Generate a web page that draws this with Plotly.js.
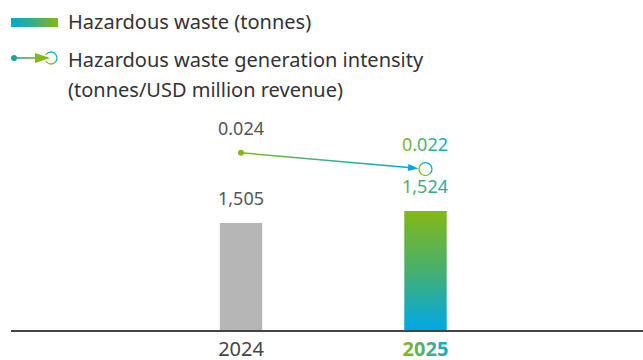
<!DOCTYPE html>
<html>
<head>
<meta charset="utf-8">
<script src="https://cdn.plot.ly/plotly-3.0.1.min.js"></script>
<style>
  html, body { margin: 0; padding: 0; background: #ffffff; }
  #chart { width: 643px; height: 360px; }
</style>
</head>
<body>
<div id="chart"></div>
<script>
// ---- data ----
const categories = ['2024', '2025'];
const wasteTonnes = [1505, 1524];
const intensity = [0.024, 0.022];
const tickLabels = ['2024', '<b>2025</b>'];
const legendWaste = 'Hazardous waste (tonnes)';
const legendIntensityLine1 = 'Hazardous waste generation intensity';
const legendIntensityLine2 = '(tonnes/USD million revenue)';

const FONT = 'Noto Sans, Open Sans, sans-serif';
const GREEN = '#84b816';
const BLUE = '#00a7e4';

const barTrace = {
  type: 'bar',
  x: categories,
  y: wasteTonnes,
  width: [0.23, 0.23],
  marker: { color: ['#b5b6b5', GREEN], line: { width: 0 } },
  hoverinfo: 'skip',
  cliponaxis: true
};

// intensity line with arrowhead at its end
const lineTrace = {
  type: 'scatter',
  x: categories,
  y: intensity,
  yaxis: 'y2',
  mode: 'lines+markers',
  line: { color: '#40aa90', width: 1.5, backoff: 'auto' },
  marker: {
    symbol: 'arrow',
    size: 11,
    color: BLUE,
    opacity: 1,
    angleref: 'previous',
    standoff: 7,
    line: { width: 0 }
  },
  hoverinfo: 'skip',
  cliponaxis: false
};

// start dot
const startDotTrace = {
  type: 'scatter',
  x: [categories[0]],
  y: [intensity[0]],
  yaxis: 'y2',
  mode: 'markers',
  marker: { symbol: 'circle', size: 6, color: GREEN, opacity: 1, line: { width: 0 } },
  hoverinfo: 'skip',
  cliponaxis: false
};

// end ring
const endCircleTrace = {
  type: 'scatter',
  x: [categories[1]],
  y: [intensity[1]],
  yaxis: 'y2',
  mode: 'markers',
  marker: { symbol: 'circle-open', size: 13, color: '#1aa9d0', opacity: 1, line: { width: 1.3, color: '#1aa9d0' } },
  hoverinfo: 'skip',
  cliponaxis: false
};

// ---- annotations ----
const annotations = [];
wasteTonnes.forEach(function (v, i) {
  annotations.push({
    x: i, y: v, xref: 'x', yref: 'y',
    text: v.toLocaleString('en-US'), showarrow: false, yshift: 25,
    font: { family: FONT, size: 18, color: '#555555' }
  });
});
intensity.forEach(function (v, i) {
  annotations.push({
    x: i, y: v, xref: 'x', yref: 'y2',
    text: v.toFixed(3), showarrow: false, yshift: 25,
    font: { family: FONT, size: 18, color: '#555555' }
  });
});
const L = 11, PW = 632, T = 100, PH = 230;
function px2x(px) { return (px - L) / PW; }
function py2y(py) { return (T + PH - py) / PH; }
[[legendWaste, 22], [legendIntensityLine1, 60], [legendIntensityLine2, 89]].forEach(function (e) {
  annotations.push({
    xref: 'paper', yref: 'paper', x: px2x(66), y: py2y(e[1]),
    xanchor: 'left', yanchor: 'middle', text: e[0], showarrow: false,
    font: { family: FONT, size: 20, color: '#333333' }
  });
});

const icon1 = '<svg xmlns="http://www.w3.org/2000/svg" width="47" height="9" viewBox="0 0 47 9">' +
  '<defs><linearGradient id="a" x1="0" y1="0" x2="1" y2="0"><stop offset="0" stop-color="#05a4e2"/><stop offset="0.5" stop-color="#40ad7e"/><stop offset="1" stop-color="#84b816"/></linearGradient></defs>' +
  '<rect x="0" y="0" width="47" height="9" fill="url(#a)"/></svg>';
const icon2 = '<svg xmlns="http://www.w3.org/2000/svg" width="48" height="16" viewBox="0 0 48 16">' +
  '<defs><linearGradient id="b" x1="0" y1="0" x2="1" y2="0"><stop offset="0" stop-color="#1aa39a"/><stop offset="1" stop-color="#84b816"/></linearGradient>' +
  '<linearGradient id="c" x1="0" y1="1" x2="1" y2="0"><stop offset="0" stop-color="#84b816"/><stop offset="0.5" stop-color="#84b816"/><stop offset="0.6" stop-color="#1aa9d8"/><stop offset="1" stop-color="#1aa9d8"/></linearGradient></defs>' +
  '<rect x="4" y="7.2" width="23" height="1.6" fill="url(#b)"/>' +
  '<circle cx="4" cy="8" r="3" fill="#1aa39a"/>' +
  '<polygon points="25,3 40,8 25,13" fill="#84b816"/>' +
  '<path d="M35.8,5 A6,6 0 1 1 35.8,11" fill="none" stroke="url(#c)" stroke-width="1.3"/></svg>';
function uri(s) { return 'data:image/svg+xml;charset=utf-8,' + encodeURIComponent(s); }

const layout = {
  width: 643, height: 360,
  margin: { l: L, r: 0, t: T, b: 30, pad: 0 },
  paper_bgcolor: '#ffffff', plot_bgcolor: '#ffffff',
  showlegend: false,
  font: { family: FONT, color: '#444444' },
  xaxis: {
    type: 'category', range: [-1.2466, 2.1789],
    showline: true, linecolor: '#444444', linewidth: 1.5,
    ticks: '', tickvals: categories, ticktext: tickLabels,
    tickfont: { family: FONT, size: 20, color: '#444444' },
    showgrid: false, zeroline: false, fixedrange: true
  },
  yaxis: { range: [1335.6, 1699.8], visible: false, fixedrange: true },
  yaxis2: { range: [0.00225, 0.03047], overlaying: 'y', visible: false, fixedrange: true },
  annotations: annotations,
  images: [
    { source: uri(icon1), xref: 'paper', yref: 'paper', x: px2x(11), y: py2y(18), sizex: 47 / PW, sizey: 9 / PH, xanchor: 'left', yanchor: 'top', sizing: 'stretch', layer: 'above' },
    { source: uri(icon2), xref: 'paper', yref: 'paper', x: px2x(10), y: py2y(50), sizex: 48 / PW, sizey: 16 / PH, xanchor: 'left', yanchor: 'top', sizing: 'stretch', layer: 'above' }
  ]
};

const gd = document.getElementById('chart');
const ns = 'http://www.w3.org/2000/svg';
function decorate() {
  const svg = gd.querySelector('svg.main-svg');
  if (!svg) return;
  let defs = document.getElementById('myGradDefs');
  if (!defs) {
    defs = document.createElementNS(ns, 'defs');
    defs.setAttribute('id', 'myGradDefs');
    svg.insertBefore(defs, svg.firstChild);
  }
  function grad(id, x1, y1, x2, y2, stops, user) {
    let g = document.getElementById(id);
    if (g) g.parentNode.removeChild(g);
    g = document.createElementNS(ns, 'linearGradient');
    g.setAttribute('id', id);
    if (user) g.setAttribute('gradientUnits', 'userSpaceOnUse');
    g.setAttribute('x1', x1); g.setAttribute('y1', y1); g.setAttribute('x2', x2); g.setAttribute('y2', y2);
    stops.forEach(function (s) {
      const st = document.createElementNS(ns, 'stop');
      st.setAttribute('offset', s[0]); st.setAttribute('stop-color', s[1]);
      g.appendChild(st);
    });
    defs.appendChild(g);
  }
  const size = gd._fullLayout._size;
  const bars = gd.querySelectorAll('.barlayer .point path');
  if (bars[1]) {
    const bb = bars[1].getBBox();
    grad('gBar', 0, bb.y, 0, size.h, [[0, '#84b816'], [0.5, '#46b06e'], [1, '#00a8e8']], true);
    bars[1].style.fill = 'url(#gBar)';
  }
  grad('gText', 0, 0, 1, 0, [[0, '#86b81a'], [1, '#12a8d2']]);
  grad('gNum', 0, 0, 1, 0, [[0, '#5fb048'], [1, '#28a8a6']]);
  grad('gLine', 0, 0, 1, 0, [[0, '#84b816'], [1, '#00a8e4']]);
  grad('gCirc', 0, 1, 1, 0, [[0, '#84b816'], [0.45, '#84b816'], [0.55, '#12a9dc'], [1, '#12a9dc']]);
  const traces = gd.querySelectorAll('.scatterlayer .trace');
  if (traces[0]) {
    const ln = traces[0].querySelector('.js-line');
    if (ln) ln.style.stroke = 'url(#gLine)';
  }
  if (traces[2]) {
    const c = traces[2].querySelector('.points path');
    if (c) c.style.stroke = 'url(#gCirc)';
  }
  gd.querySelectorAll('.xtick text').forEach(function (t) {
    if (t.textContent.trim() === categories[1]) t.style.fill = 'url(#gText)';
  });
  gd.querySelectorAll('.annotation').forEach(function (a) {
    const idx = +a.getAttribute('data-index');
    const t = a.querySelector('text');
    if (!t) return;
    if (idx === 1) t.style.fill = 'url(#gNum)';
    if (idx === 3) t.style.fill = 'url(#gText)';
  });
}
Plotly.newPlot(gd, [barTrace, lineTrace, startDotTrace, endCircleTrace], layout, { staticPlot: true, displayModeBar: false }).then(decorate);
</script>
</body>
</html>
